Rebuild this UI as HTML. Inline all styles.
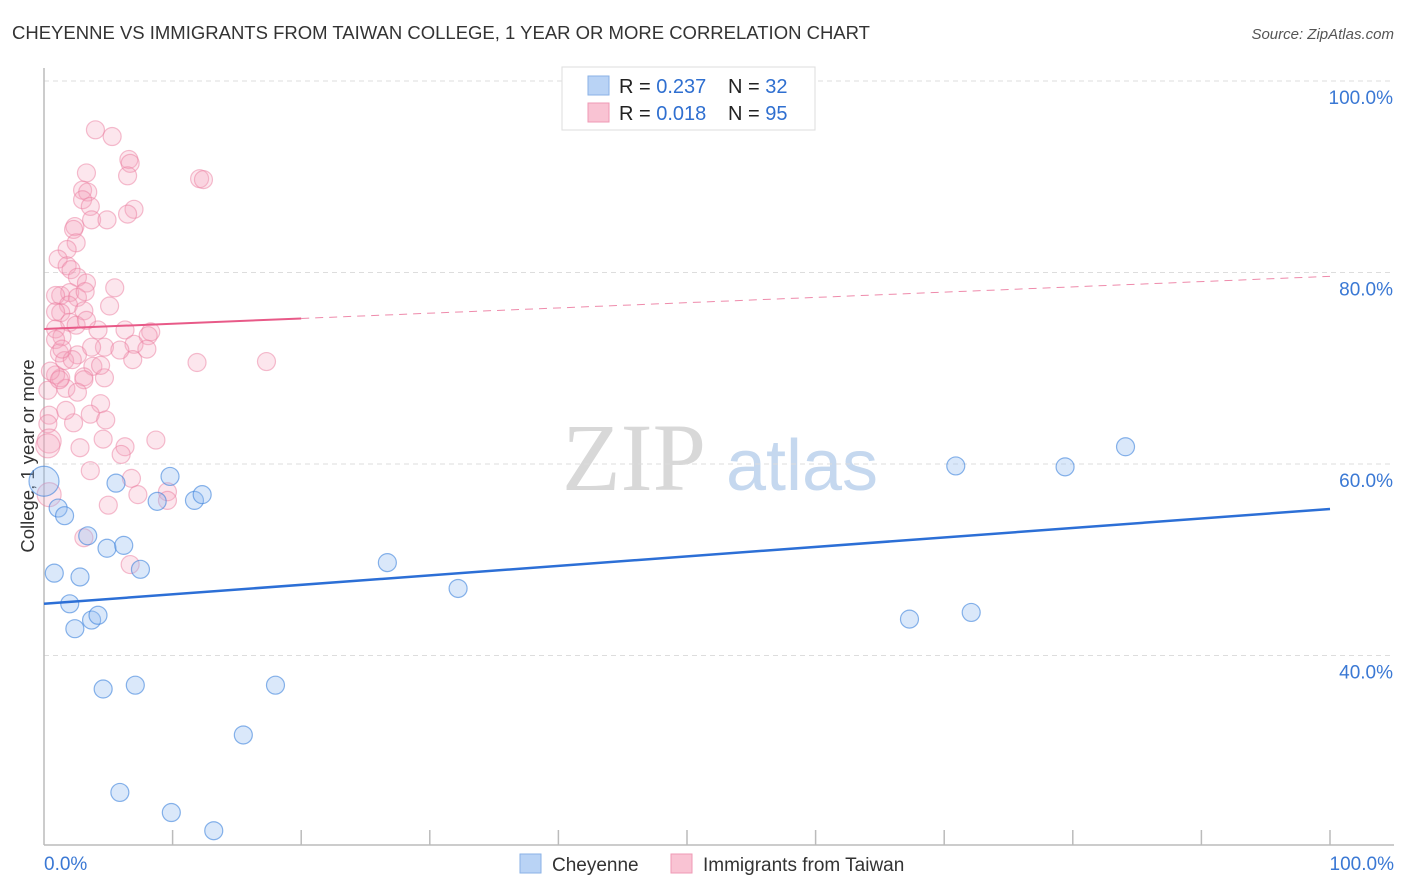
<!DOCTYPE html>
<html><head><meta charset="utf-8"><style>
body{margin:0;background:#fff;font-family:"Liberation Sans",sans-serif;}
svg{display:block}
</style></head><body>
<svg id="chart" width="1406" height="892" viewBox="0 0 1406 892">
<text x="12" y="39" font-size="18.5" fill="#333">CHEYENNE VS IMMIGRANTS FROM TAIWAN COLLEGE, 1 YEAR OR MORE CORRELATION CHART</text>
<text x="1394" y="39" font-size="15" fill="#555" font-style="italic" text-anchor="end">Source: ZipAtlas.com</text>
<text x="0" y="0" transform="translate(34,456) rotate(-90)" font-size="18.5" fill="#333" text-anchor="middle">College, 1 year or more</text>
<g>
<text x="634" y="490" font-size="96" font-family="Liberation Serif,serif" fill="#d8d8d8" text-anchor="middle">ZIP</text>
<text x="802" y="490" font-size="72" fill="#c5d8ef" text-anchor="middle">atlas</text>
</g>
<g id="grid"></g>
<g id="axes"></g>
<g id="marks"></g>
<g>
<rect x="562" y="67" width="253" height="63" fill="#fff" stroke="#ddd"/>
<rect x="588" y="76" width="21" height="19" fill="#b9d3f5" stroke="#8ab2e6"/>
<rect x="588" y="103" width="21" height="19" fill="#f9c3d3" stroke="#ef9ab4"/>
<text x="619" y="93" font-size="20" fill="#222">R = <tspan fill="#2f6fd0">0.237</tspan></text>
<text x="728" y="93" font-size="20" fill="#222">N = <tspan fill="#2f6fd0">32</tspan></text>
<text x="619" y="120" font-size="20" fill="#222">R = <tspan fill="#2f6fd0">0.018</tspan></text>
<text x="728" y="120" font-size="20" fill="#222">N = <tspan fill="#2f6fd0">95</tspan></text>
</g>
<g>
<rect x="520" y="854" width="21" height="19" fill="#b9d3f5" stroke="#8ab2e6"/>
<text x="552" y="871" font-size="19" fill="#333">Cheyenne</text>
<rect x="671" y="854" width="21" height="19" fill="#f9c3d3" stroke="#ef9ab4"/>
<text x="703" y="871" font-size="19" fill="#333">Immigrants from Taiwan</text>
</g>
</svg>
<script>
const yTicks=[40,60,80,100];
const yTickLabels=["40.0%","60.0%","80.0%","100.0%"];
const xTickLabels=["0.0%","100.0%"];
const blueX=[0,1.1,1.6,0.8,2.8,3.4,4.9,6.2,7.5,2.0,2.4,3.7,4.2,5.6,9.8,8.8,11.7,12.3,4.6,7.1,18.0,15.5,5.9,9.9,13.2,26.7,32.2,70.9,79.4,84.1,67.3,72.1];
const blueY=[58.2,55.4,54.6,48.6,48.2,52.5,51.2,51.5,49.0,45.4,42.8,43.7,44.2,58.0,58.7,56.1,56.2,56.8,36.5,36.9,36.9,31.7,25.7,23.6,21.7,49.7,47.0,59.8,59.7,61.8,43.8,44.5];
const pinkX=[4.0,5.3,6.6,6.7,6.5,3.3,12.1,12.4,3.0,3.4,3.0,3.6,7.0,6.5,3.7,4.9,2.4,2.3,2.5,1.8,1.1,1.8,2.1,2.6,3.3,5.5,1.3,2.0,2.6,3.2,0.9,1.9,5.1,3.1,1.3,0.9,2.0,2.5,0.9,4.2,6.3,8.3,8.1,1.4,0.9,4.7,7.0,8.0,1.2,2.6,6.9,11.9,17.3,1.6,3.8,3.1,1.3,0.9,0.5,3.1,1.7,2.6,0.4,0.3,4.4,3.6,4.8,2.3,4.6,0.4,0.3,2.8,6.3,8.7,6.0,3.6,6.8,0.4,5.0,7.3,9.6,9.6,3.1,6.7,4.7,0.3,1.2,1.7,2.2,4.4,3.7,1.4,3.3,5.9];
const pinkY=[94.9,94.2,91.8,91.4,90.1,90.4,89.8,89.7,88.6,88.4,87.6,86.9,86.6,86.1,85.5,85.5,84.8,84.5,83.1,82.4,81.4,80.7,80.3,79.5,78.9,78.4,77.6,77.9,77.4,78.0,77.6,76.6,76.5,76.0,75.8,75.9,74.8,74.5,74.1,74.0,74.0,73.8,73.4,73.3,73.0,72.2,72.5,72.0,71.6,71.4,70.9,70.6,70.7,70.8,70.2,69.1,69.0,69.3,69.7,68.8,67.9,67.5,65.1,64.2,66.3,65.2,64.6,64.3,62.6,62.4,61.9,61.7,61.8,62.5,61.0,59.3,58.5,56.8,55.7,56.8,57.1,56.2,52.3,49.5,69.0,67.7,68.8,65.6,70.9,70.3,72.2,72.0,75.0,71.9];
const blueTrend=[45.4,55.3];
const pinkTrend=[74.1,79.6];
const pinkSolidEnd=20;

const NS="http://www.w3.org/2000/svg";
const xS=v=>44+v*12.86;
const yS=v=>81+(100-v)*9.575;
function mk(tag,attrs,parent){const e=document.createElementNS(NS,tag);for(const k in attrs)e.setAttribute(k,attrs[k]);parent.appendChild(e);return e;}
const grid=document.getElementById('grid'),axes=document.getElementById('axes'),marks=document.getElementById('marks');
yTicks.forEach((t,i)=>{
 const l=mk('line',{x1:44,x2:1394,y1:yS(t),y2:yS(t),stroke:'#ddd','stroke-dasharray':'5,4'},grid);
 
 
 const tx=mk('text',{x:1393,y:yS(t)+23,'font-size':19,fill:'#3a78d4','text-anchor':'end'},axes);
 tx.textContent=yTickLabels[i];
 
 
});
const ya=mk('line',{x1:44,x2:44,y1:68,y2:845,stroke:'#bbb','stroke-width':1.5},axes);


const xa=mk('line',{x1:44,x2:1394,y1:845,y2:845,stroke:'#bbb','stroke-width':1.5},axes);


for(let i=1;i<=10;i++){
 const t=mk('line',{x1:xS(i*10),x2:xS(i*10),y1:830,y2:845,stroke:'#bbb','stroke-width':1.5},axes);
 
 
}
[[0,'start',44],[100,'end',1394]].forEach((d,i)=>{
 const tx=mk('text',{x:d[2],y:870,'font-size':19,fill:'#3a78d4','text-anchor':d[1]},axes);
 tx.textContent=xTickLabels[i];
 
 
});
pinkX.forEach((x,i)=>{
 const big=x<0.6&&pinkY[i]<63&&pinkY[i]>56;
 const c=mk('circle',{cx:xS(x),cy:yS(pinkY[i]),r:big?12:9,fill:'rgba(246,165,192,0.28)',stroke:'rgba(235,125,160,0.5)','stroke-width':1.2},marks);
 
 
});
blueX.forEach((x,i)=>{
 const c=mk('circle',{cx:xS(x),cy:yS(blueY[i]),r:i===0?15:9,fill:'rgba(150,190,240,0.35)',stroke:'rgba(60,130,220,0.6)','stroke-width':1.2},marks);
 
 
});
const py=x=>pinkTrend[0]+(pinkTrend[1]-pinkTrend[0])*x/100;
const p1=mk('line',{x1:xS(0),y1:yS(py(0)),x2:xS(pinkSolidEnd),y2:yS(py(pinkSolidEnd)),stroke:'#e85a88','stroke-width':2},marks);


const p2=mk('line',{x1:xS(pinkSolidEnd),y1:yS(py(pinkSolidEnd)),x2:xS(100),y2:yS(py(100)),stroke:'#e85a88','stroke-width':1,'stroke-dasharray':'8,6','opacity':0.7},marks);


const b=mk('line',{x1:xS(0),y1:yS(blueTrend[0]),x2:xS(100),y2:yS(blueTrend[1]),stroke:'#2c6fd6','stroke-width':2.5},marks);


</script>
</body></html>
